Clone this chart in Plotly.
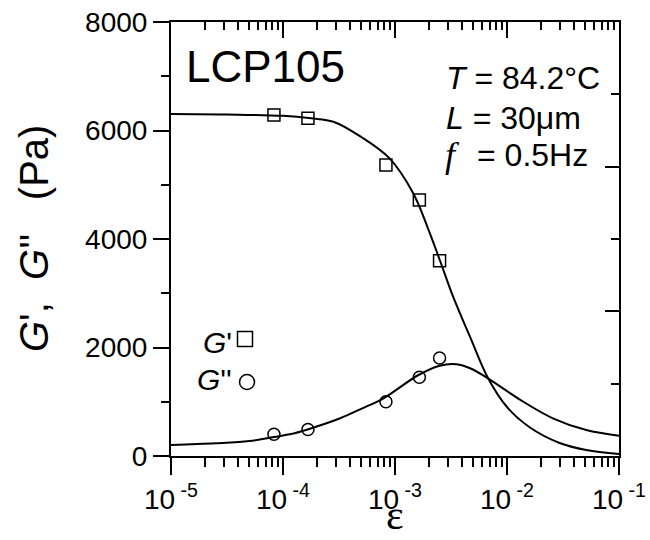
import plotly.graph_objects as go

# measured points
strain = [8.3e-5, 1.67e-4, 8.3e-4, 1.65e-3, 2.5e-3]
G_storage = [6286, 6225, 5364, 4719, 3600]
G_loss = [400, 490, 1001, 1451, 1805]

# fitted curves
fit_strain_Gp = [1e-5, 3.16e-5, 1e-4, 1.78e-4, 2.82e-4, 5.0e-4, 8.9e-4, 1.45e-3, 1.95e-3,
                 2.51e-3, 3.31e-3, 4.68e-3, 6.76e-3, 1.0e-2, 1.58e-2, 2.95e-2, 5.1e-2, 1e-1]
fit_Gp = [6304, 6295, 6270, 6225, 6162, 5880, 5490, 4848, 4221,
          3613, 2931, 2194, 1438, 903, 535, 240, 111, 37]
fit_strain_Gpp = [1e-5, 2.5e-5, 5.0e-5, 8.3e-5, 1.15e-4, 1.66e-4, 3.24e-4, 5.0e-4, 7.9e-4,
                  1.62e-3, 2.51e-3, 3.55e-3, 4.68e-3, 6.76e-3, 1.32e-2, 2.57e-2, 5.1e-2, 1e-1]
fit_Gpp = [205, 235, 275, 350, 400, 490, 695, 870, 1063,
           1493, 1665, 1690, 1617, 1432, 1032, 695, 479, 374]

x_tickvals = [1e-5, 1e-4, 1e-3, 1e-2, 1e-1]
x_ticktext = ["10<sup> -5</sup>", "10<sup> -4</sup>", "10<sup> -3</sup>", "10<sup> -2</sup>", "10<sup> -1</sup>"]
x_minor = [m * 10 ** e for e in range(-5, -1) for m in range(2, 10)]
y_tickvals = [0, 2000, 4000, 6000, 8000]

FONT = "Liberation Sans, Arial, sans-serif"
SERIF = "Liberation Serif, Times New Roman, serif"

fig = go.Figure()
fig.add_trace(go.Scatter(x=fit_strain_Gp, y=fit_Gp, mode="lines",
                         line=dict(color="black", width=2, shape="spline", smoothing=1.0),
                         showlegend=False, hoverinfo="skip"))
fig.add_trace(go.Scatter(x=fit_strain_Gpp, y=fit_Gpp, mode="lines",
                         line=dict(color="black", width=2, shape="spline", smoothing=1.0),
                         showlegend=False, hoverinfo="skip"))
fig.add_trace(go.Scatter(x=strain, y=G_storage, mode="markers", name="G'",
                         marker=dict(symbol="square-open", size=12, color="black",
                                     line=dict(width=1.5, color="black")),
                         showlegend=False))
fig.add_trace(go.Scatter(x=strain, y=G_loss, mode="markers", name="G''",
                         marker=dict(symbol="circle-open", size=12, color="black",
                                     line=dict(width=1.5, color="black")),
                         showlegend=False))
# transparent trace so the mirrored top/right frame axes are drawn
fig.add_trace(go.Scatter(x=strain, y=G_loss, xaxis="x2", yaxis="y2", mode="markers",
                         marker=dict(opacity=0), showlegend=False, hoverinfo="skip"))

fig.update_layout(
    width=650, height=540, autosize=False,
    margin=dict(l=171, r=31, t=22, b=84, pad=0, autoexpand=False),
    paper_bgcolor="white", plot_bgcolor="white",
    font=dict(family=FONT, size=26, color="black"),
    xaxis=dict(type="log", range=[-5, -1], showgrid=False, zeroline=False,
               showline=True, linewidth=2, linecolor="black",
               tickmode="array", tickvals=x_tickvals, ticktext=x_ticktext,
               ticks="outside", ticklen=17, tickwidth=2, tickcolor="black",
               tickfont=dict(size=28),
               minor=dict(tickmode="array", tickvals=x_minor, ticks="outside",
                          ticklen=9, tickwidth=1.5, tickcolor="black", showgrid=False)),
    yaxis=dict(range=[0, 8000], showgrid=False, zeroline=False,
               showline=True, linewidth=2, linecolor="black",
               tickmode="array", tickvals=y_tickvals,
               ticks="outside", ticklen=16, tickwidth=2, tickcolor="black",
               tickfont=dict(size=28),
               minor=dict(dtick=1000, ticks="outside", ticklen=8, tickwidth=1.5,
                          tickcolor="black", showgrid=False)),
    xaxis2=dict(type="log", range=[-5, -1], overlaying="x", side="top", anchor="y2",
                showgrid=False, zeroline=False, showline=True, linewidth=2, linecolor="black",
                tickmode="array", tickvals=x_tickvals, showticklabels=False,
                ticks="inside", ticklen=16, tickwidth=2, tickcolor="black",
                minor=dict(tickmode="array", tickvals=x_minor, ticks="inside",
                           ticklen=8, tickwidth=1.5, tickcolor="black", showgrid=False)),
    yaxis2=dict(range=[0, 6], overlaying="y", side="right", anchor="x2",
                showgrid=False, zeroline=False, showline=True, linewidth=2, linecolor="black",
                tickmode="array", tickvals=[0, 2, 4, 6], showticklabels=False,
                ticks="inside", ticklen=14, tickwidth=2, tickcolor="black",
                minor=dict(dtick=1, ticks="inside", ticklen=8, tickwidth=1.5,
                           tickcolor="black", showgrid=False)),
)

def px_x(p):
    return (p - 171) / 448.0

def px_y(p):
    return (456 - p) / 434.0

ann = []
ann.append(dict(text="LCP105", x=px_x(184), y=px_y(66), xref="paper", yref="paper",
                xanchor="left", yanchor="middle", showarrow=False,
                font=dict(family=FONT, size=44, color="black")))
ann.append(dict(text="<i>T</i> = 84.2°C", x=px_x(444), y=px_y(78), xref="paper", yref="paper",
                xanchor="left", yanchor="middle", showarrow=False,
                font=dict(family=FONT, size=32, color="black")))
ann.append(dict(text="<i>L</i> = 30μm", x=px_x(444), y=px_y(118), xref="paper", yref="paper",
                xanchor="left", yanchor="middle", showarrow=False,
                font=dict(family=FONT, size=32, color="black")))
ann.append(dict(text="<i>f</i>", x=px_x(443), y=px_y(155), xref="paper", yref="paper",
                xanchor="left", yanchor="middle", showarrow=False,
                font=dict(family=SERIF, size=36, color="black")))
ann.append(dict(text="= 0.5Hz", x=px_x(475), y=px_y(155), xref="paper", yref="paper",
                xanchor="left", yanchor="middle", showarrow=False,
                font=dict(family=FONT, size=32, color="black")))
ann.append(dict(text="<i>G</i>'", x=px_x(234), y=px_y(342), xref="paper", yref="paper",
                xanchor="right", yanchor="middle", showarrow=False,
                font=dict(family=FONT, size=30, color="black")))
ann.append(dict(text="<i>G</i>''", x=px_x(234), y=px_y(379), xref="paper", yref="paper",
                xanchor="right", yanchor="middle", showarrow=False,
                font=dict(family=FONT, size=30, color="black")))
ann.append(dict(text="<i>G</i>',  <i>G</i>''   (Pa)", x=px_x(34), y=px_y(239),
                xref="paper", yref="paper", textangle=-90,
                xanchor="center", yanchor="middle", showarrow=False,
                font=dict(family=FONT, size=40, color="black")))
ann.append(dict(text="ε", x=0.5, y=px_y(540), xref="paper", yref="paper",
                xanchor="center", yanchor="bottom", showarrow=False,
                font=dict(family=SERIF, size=42, color="black")))
fig.update_layout(annotations=ann)

# legend keys
fig.add_shape(type="rect", xref="paper", yref="paper",
              x0=px_x(237.5), x1=px_x(252.5), y0=px_y(346.5), y1=px_y(331.5),
              line=dict(color="black", width=1.5), fillcolor="rgba(0,0,0,0)")
fig.add_shape(type="circle", xref="paper", yref="paper",
              x0=px_x(239.5), x1=px_x(254.5), y0=px_y(389.5), y1=px_y(374.5),
              line=dict(color="black", width=1.5), fillcolor="rgba(0,0,0,0)")

fig.write_html("out.html")
